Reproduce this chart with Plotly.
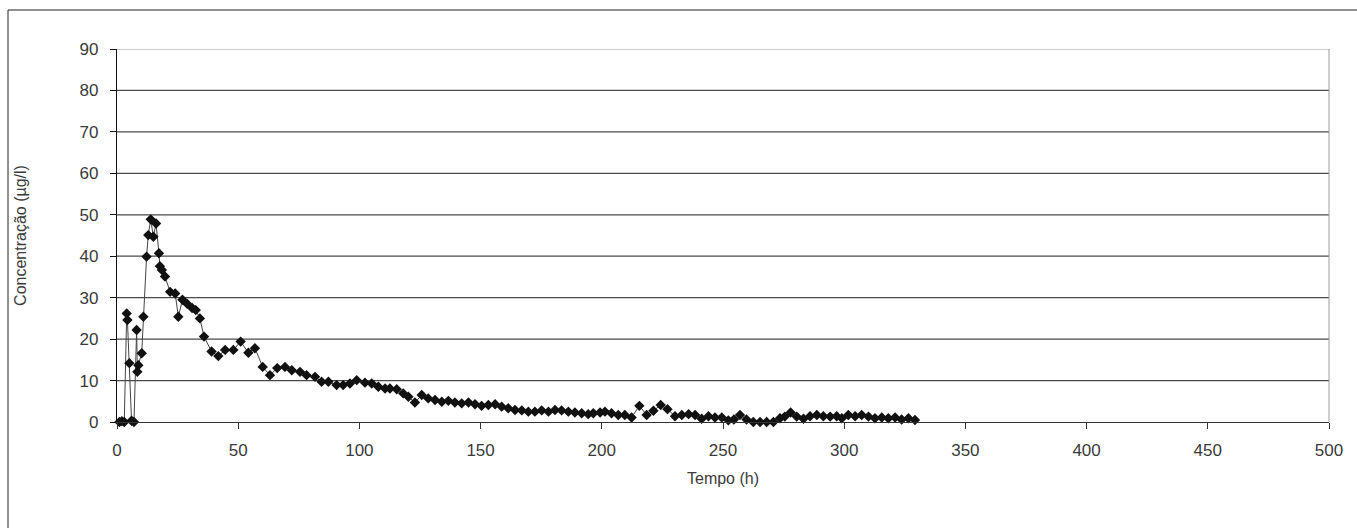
import plotly.graph_objects as go

# Time (h) and concentration (µg/l)
tempo = [1, 2, 3, 4, 4.3, 5.1, 6, 7, 8.1, 8.4, 8.8, 10.2, 10.9, 12.2, 12.9, 13.9, 15, 16.1,
         17.3, 17.7, 18.5, 19.8, 21.9, 24, 25.3, 27, 29, 31, 32.5, 34.2, 35.9, 39, 41.8, 44.6,
         48, 51, 54.2, 56.9, 60.1, 63.1, 66.1, 69.3, 72.1, 75.5, 78.2, 81.7, 84.4, 87.2,
         90.6, 93.3, 96.1, 98.9, 102.3, 105.1, 107.8, 110.6, 112.6, 115.4, 118.1, 120.2,
         122.9, 125.7, 128.4, 131.2, 134, 136.7, 139.4, 142.2, 145, 147.7, 150.4, 153.2,
         156, 158.7, 161.4, 164.2, 167, 169.7, 172.4, 175.2, 178, 180.7, 183.4, 186.2,
         188.9, 191.7, 194.4, 196.5, 199.3, 201.3, 204, 206.8, 209.5, 212.3, 215.5, 218.5,
         221.3, 224.3, 227.1, 230.2, 233, 235.8, 238.5, 241.2, 244, 246.7, 249.5, 252.2,
         254.5, 257, 259.7, 262.5, 265.3, 268, 270.8, 273.5, 275.5, 277.9, 280.4, 283.2,
         285.9, 288.7, 291.4, 294.2, 296.9, 299, 301.7, 304.5, 307.2, 310, 312.7, 315.5,
         318.2, 321, 323.7, 326.5, 329.2]
concentracao = [0, 0.2, 0, 26.2, 24.6, 14.2, 0.3, 0, 22.2, 12.1, 13.7, 16.6, 25.4, 39.9, 45.1,
                48.9, 44.7, 47.9, 40.7, 37.6, 36.7, 35.1, 31.4, 31, 25.4, 29.5, 28.5, 27.5,
                27, 25, 20.6, 17, 15.9, 17.4, 17.4, 19.4, 16.7, 17.8, 13.3, 11.3, 13, 13.3,
                12.5, 12.1, 11.3, 10.9, 9.7, 9.7, 8.9, 8.9, 9.3, 10.1, 9.5, 9.3, 8.5, 8.1,
                8.1, 7.9, 6.9, 6.1, 4.7, 6.5, 5.7, 5.3, 4.9, 5.1, 4.7, 4.5, 4.7, 4.3, 3.9,
                4.1, 4.3, 3.7, 3.3, 2.9, 2.8, 2.5, 2.5, 2.8, 2.5, 2.9, 2.8, 2.5, 2.3, 2.1,
                1.9, 2.1, 2.3, 2.5, 2.1, 1.7, 1.7, 1.1, 3.9, 1.7, 2.7, 4.1, 3.1, 1.4, 1.7,
                1.9, 1.7, 0.8, 1.4, 1.1, 1.1, 0.4, 0.6, 1.7, 0.6, 0, 0, 0, 0, 0.9, 1.3, 2.3,
                1.3, 0.8, 1.4, 1.7, 1.4, 1.3, 1.4, 0.9, 1.7, 1.4, 1.7, 1.3, 0.9, 1.1, 0.9,
                1.1, 0.6, 0.9, 0.5]

x_ticks = [0, 50, 100, 150, 200, 250, 300, 350, 400, 450, 500]
y_ticks = [0, 10, 20, 30, 40, 50, 60, 70, 80, 90]

FONT = "Liberation Sans, Arial, sans-serif"
TXT = "#3a3a3a"

fig = go.Figure()
fig.add_trace(go.Scatter(
    x=tempo, y=concentracao, mode="lines+markers",
    line=dict(color="#444444", width=1),
    marker=dict(symbol="diamond", size=8, color="#111111"),
    showlegend=False, cliponaxis=False,
))

shapes = []
for v in y_ticks[1:]:
    shapes.append(dict(type="line", xref="paper", x0=0, x1=1, yref="y", y0=v, y1=v,
                       line=dict(color="#999999" if v == y_ticks[-1] else "#4a4a4a",
                                 width=1 if v == y_ticks[-1] else 1.3),
                       layer="below"))
shapes.append(dict(type="line", xref="paper", x0=1, x1=1, yref="paper", y0=0, y1=1,
                   line=dict(color="#9a9a9a", width=1), layer="below"))
# outer frame
shapes.append(dict(type="rect", xref="paper", yref="paper",
                   x0=-109/1212, x1=1.03, y0=-0.3, y1=(422 - 10) / 373,
                   line=dict(color="#222222", width=1), layer="below"))

fig.update_layout(
    width=1357, height=528,
    margin=dict(l=117, r=28, t=49, b=106),
    paper_bgcolor="white", plot_bgcolor="white",
    font=dict(family=FONT, size=16, color=TXT),
    shapes=shapes,
    xaxis=dict(range=[0, 500], tickvals=x_ticks, showgrid=False, zeroline=False,
               showline=True, linecolor="#333333", linewidth=1.3,
               ticks="outside", ticklen=6, tickcolor="#333333",
               tickfont=dict(size=17, color=TXT), ticklabelstandoff=6,
               title=dict(text="Tempo (h)", font=dict(size=16, color=TXT), standoff=14)),
    yaxis=dict(range=[0, 90], tickvals=y_ticks, showgrid=False, zeroline=False,
               showline=True, linecolor="#111111", linewidth=1.3,
               ticks="outside", ticklen=6, tickcolor="#111111",
               tickfont=dict(size=17, color=TXT), ticklabelstandoff=8,
               title=dict(text="Concentração (µg/l)", font=dict(size=16, color=TXT), standoff=48)),
)

fig.write_html("out.html")
